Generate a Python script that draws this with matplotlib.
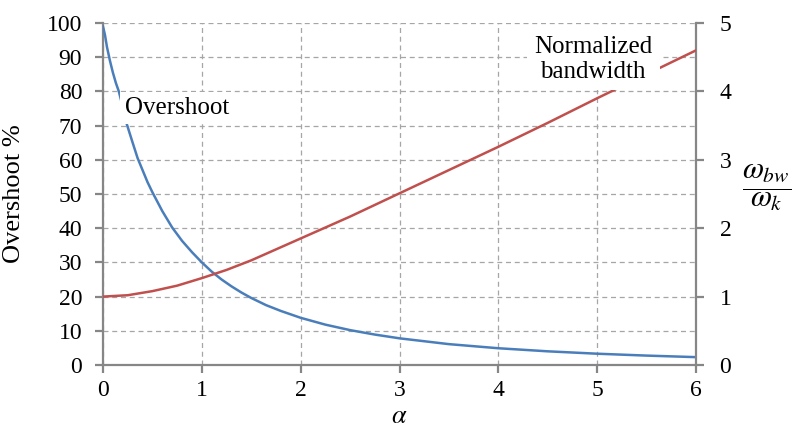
import matplotlib
matplotlib.use("Agg")
import matplotlib.pyplot as plt

# ---- data ----
alpha_os = [0, 0.02, 0.04, 0.07, 0.1, 0.13, 0.16, 0.2, 0.24, 0.3, 0.35, 0.4, 0.45, 0.5,
            0.6, 0.7, 0.8, 0.9, 1.0, 1.1, 1.2, 1.3, 1.4, 1.5, 1.65, 1.8, 2.0, 2.25,
            2.5, 2.75, 3.0, 3.5, 4.0, 4.5, 5.0, 5.5, 6.0]
overshoot = [99, 96.5, 93, 89, 85.5, 82.5, 80, 75.5, 70.5, 65, 60.5, 57, 53.5, 50.5,
             45, 40.2, 36.3, 33, 30, 27.3, 25, 23, 21.2, 19.6, 17.5, 15.8, 13.8, 11.8,
             10.2, 8.9, 7.8, 6.1, 4.9, 4.0, 3.3, 2.75, 2.3]

alpha_bw = [0, 0.25, 0.5, 0.75, 1.0, 1.25, 1.5, 1.75, 2.0, 2.5, 3.0, 3.5, 4.0, 4.5, 5.0, 5.5, 6.0]
bandwidth = [1.0, 1.02, 1.08, 1.16, 1.27, 1.39, 1.53, 1.69, 1.85, 2.17, 2.51, 2.85, 3.19, 3.54, 3.9, 4.25, 4.6]

x_ticks = [0, 1, 2, 3, 4, 5, 6]
left_ticks = [0, 10, 20, 30, 40, 50, 60, 70, 80, 90, 100]
right_ticks = [0, 1, 2, 3, 4, 5]

plt.rcParams['font.family'] = ['Liberation Serif', 'DejaVu Serif']
plt.rcParams['mathtext.fontset'] = 'stix'

BLUE = '#4a7ebb'
RED = '#c0504d'
SPINE = '#868686'
GRID = '#a6a6a6'

fig = plt.figure(figsize=(7.92, 4.30), dpi=100)
ax = fig.add_axes([103/792, 1-365/430, (696-103)/792, (365-23)/430])
ax2 = ax.twinx()

ax.plot(alpha_os, overshoot, color=BLUE, lw=1.8, zorder=3)
ax2.plot(alpha_bw, bandwidth, color=RED, lw=1.8, zorder=3)

ax.set_xlim(0, 6)
ax.set_ylim(0, 100)
ax2.set_ylim(0, 5)
ax.set_xticks(x_ticks)
ax.set_yticks(left_ticks)
ax2.set_yticks(right_ticks)

ax.grid(True, color=GRID, linestyle=(0, (4, 3)), linewidth=0.9)
ax.set_axisbelow(True)

for a in (ax, ax2):
    for s in a.spines.values():
        s.set_color(SPINE)
        s.set_linewidth(1.6)
    a.spines['top'].set_visible(False)
ax.spines['right'].set_visible(False)
ax2.spines['left'].set_visible(False)
ax2.spines['bottom'].set_visible(False)

ax.tick_params(axis='y', direction='out', length=6, width=1.6, color=SPINE,
               labelsize=17, pad=9)
ax.tick_params(axis='x', direction='out', length=6, width=1.6, color=SPINE,
               labelsize=17, pad=5)
ax2.tick_params(axis='y', direction='out', length=6, width=1.6, color=SPINE,
                labelsize=17, pad=11)

ax.set_ylabel('Overshoot %', fontsize=19)
ax.yaxis.set_label_coords(-(103-25)/593, 0.50)
ax.set_xlabel(r'$\alpha$', fontsize=19)
ax.xaxis.set_label_coords(0.5, -(406-365)/342)

fig.text(767/792, 1-188/430, r'$\dfrac{\omega_{bw}}{\omega_k}$', fontsize=22,
         ha='center', va='center')

ax2.text(0.22, 3.76, 'Overshoot', fontsize=18, ha='left', va='center',
         bbox=dict(boxstyle='square,pad=0.2', fc='white', ec='none'), zorder=5)
ax2.text(4.96, 4.47, 'Normalized\nbandwidth', fontsize=18, ha='center',
         va='center', multialignment='center', linespacing=1.2,
         bbox=dict(boxstyle='square,pad=0.3', fc='white', ec='none'), zorder=5)

fig.savefig('out.png', dpi=100)
